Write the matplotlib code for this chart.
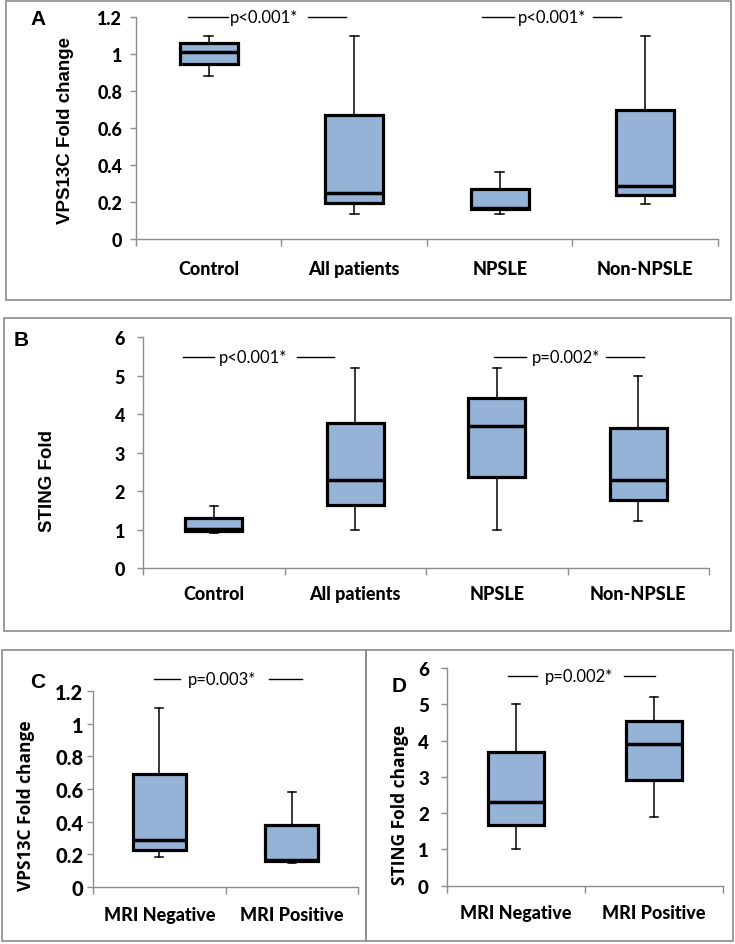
import matplotlib.pyplot as plt
from matplotlib.patches import Rectangle

groups_ab = ["Control", "All patients", "NPSLE", "Non-NPSLE"]
groups_cd = ["MRI Negative", "MRI Positive"]

# box summaries: whisker low, q1, median, q3, whisker high
vps_lo = [0.88, 0.135, 0.135, 0.19]
vps_q1 = [0.945, 0.193, 0.16, 0.238]
vps_med = [1.01, 0.25, 0.17, 0.287]
vps_q3 = [1.06, 0.673, 0.272, 0.697]
vps_hi = [1.10, 1.10, 0.363, 1.10]

sting_lo = [0.92, 0.99, 0.99, 1.21]
sting_q1 = [0.97, 1.65, 2.37, 1.76]
sting_med = [1.01, 2.29, 3.69, 2.30]
sting_q3 = [1.31, 3.76, 4.43, 3.63]
sting_hi = [1.60, 5.20, 5.20, 4.99]

mri_vps_lo = [0.18, 0.147]
mri_vps_q1 = [0.225, 0.156]
mri_vps_med = [0.287, 0.166]
mri_vps_q3 = [0.69, 0.381]
mri_vps_hi = [1.096, 0.58]

mri_sting_lo = [1.01, 1.90]
mri_sting_q1 = [1.68, 2.92]
mri_sting_med = [2.30, 3.91]
mri_sting_q3 = [3.69, 4.55]
mri_sting_hi = [5.01, 5.21]

vps_ticks = [0, 0.2, 0.4, 0.6, 0.8, 1, 1.2]
sting_ticks = [0, 1, 2, 3, 4, 5, 6]

W, H = 735, 945
FILL = "#95B3D7"
GRAY = "#8C8C8C"
CAL = "Lato"

fig = plt.figure(figsize=(W / 100, H / 100), dpi=100)


def px_rect(l, t, r, b):
    return [l / W, 1 - b / H, (r - l) / W, (b - t) / H]


def frame(l, t, r, b):
    fig.patches.append(Rectangle((l / W, 1 - b / H), (r - l) / W, (b - t) / H,
                                 transform=fig.transFigure, fill=False,
                                 edgecolor=GRAY, lw=1.2))


def panel(rect, labels, lo, q1, med, q3, hi, ticks, ytick_size, xpad, ypad):
    ax = fig.add_axes(px_rect(*rect))
    stats = [dict(whislo=a, q1=b, med=c, q3=d, whishi=e, fliers=[])
             for a, b, c, d, e in zip(lo, q1, med, q3, hi)]
    n = len(labels)
    ax.bxp(stats, positions=range(1, n + 1), widths=0.4, patch_artist=True,
           boxprops=dict(facecolor=FILL, edgecolor="black", lw=2.3),
           medianprops=dict(color="black", lw=2.5),
           whiskerprops=dict(color="black", lw=1.1),
           capprops=dict(color="black", lw=1.1), capwidths=0.06)
    ax.set_xlim(0.5, n + 0.5)
    ax.set_ylim(ticks[0], ticks[-1])
    ax.set_yticks(ticks)
    ax.set_yticklabels([f"{t:g}" for t in ticks], fontfamily=CAL,
                       fontweight="black", fontsize=ytick_size)
    ax.set_xticks(range(1, n + 1))
    ax.set_xticklabels(labels, fontfamily=CAL, fontweight="black", fontsize=13)
    ax.set_xticks([i + 0.5 for i in range(n + 1)], minor=True)
    ax.tick_params(axis="x", which="major", length=0, pad=xpad)
    ax.tick_params(axis="x", which="minor", length=5, color=GRAY, width=1)
    ax.tick_params(axis="y", length=4, color=GRAY, width=1, pad=ypad)
    for s in ["top", "right"]:
        ax.spines[s].set_visible(False)
    for s in ["left", "bottom"]:
        ax.spines[s].set_color(GRAY)
        ax.spines[s].set_linewidth(1)
    ax.set_facecolor("none")
    return ax


def pnote(ax, y, x1, x2, xt, x3, x4, text):
    ax.plot([x1, x2], [y, y], color="black", lw=1, clip_on=False)
    ax.plot([x3, x4], [y, y], color="black", lw=1, clip_on=False)
    ax.text(xt, y, text, ha="center", va="center", fontfamily=CAL,
            fontsize=12, clip_on=False)


# panel frames
frame(6, 1.5, 731, 300.5)
frame(3.5, 319, 731, 631.5)
frame(1.5, 651, 365.5, 942)
frame(365.5, 651, 733, 942)

# A
ax_a = panel((136, 18.3, 718, 240), groups_ab, vps_lo, vps_q1, vps_med,
             vps_q3, vps_hi, vps_ticks, 13, 15, 6)
pnote(ax_a, 1.2, 0.86, 1.13, 1.38, 1.68, 1.94, "p<0.001*")
pnote(ax_a, 1.2, 2.88, 3.10, 3.36, 3.64, 3.83, "p<0.001*")
fig.text(66 / W, 1 - 131 / H, "VPS13C Fold change", rotation=90, ha="center",
         va="center", fontfamily="Liberation Sans", fontweight="bold", fontsize=13.5)
fig.text(38.5 / W, 1 - 19.5 / H, "A", ha="center", va="center",
         fontfamily="Liberation Sans", fontweight="bold", fontsize=15)

# B
ax_b = panel((143, 338.3, 709, 569), groups_ab, sting_lo, sting_q1, sting_med,
             sting_q3, sting_hi, sting_ticks, 13, 12, 9)
pnote(ax_b, 5.5, 0.78, 1.00, 1.28, 1.59, 1.85, "p<0.001*")
pnote(ax_b, 5.5, 2.98, 3.21, 3.49, 3.77, 4.04, "p=0.002*")
fig.text(47 / W, 1 - 481 / H, "STING Fold", rotation=90, ha="center",
         va="center", fontfamily="Liberation Sans", fontweight="bold", fontsize=13.5)
fig.text(21.5 / W, 1 - 341 / H, "B", ha="center", va="center",
         fontfamily="Liberation Sans", fontweight="bold", fontsize=15)

# C
ax_c = panel((93, 692.3, 358, 887.7), groups_cd, mri_vps_lo, mri_vps_q1,
             mri_vps_med, mri_vps_q3, mri_vps_hi, vps_ticks, 14.5, 14, 3)
pnote(ax_c, 1.274, 0.96, 1.16, 1.47, 1.83, 2.08, "p=0.003*")
fig.text(26 / W, 1 - 806 / H, "VPS13C Fold change", rotation=90, ha="center",
         va="center", fontfamily="Open Sans", fontweight="bold", fontsize=12.5)
fig.text(37.5 / W, 1 - 682 / H, "C", ha="center", va="center",
         fontfamily="Liberation Sans", fontweight="bold", fontsize=15)

# D
ax_d = panel((447, 669, 723, 886.7), groups_cd, mri_sting_lo, mri_sting_q1,
             mri_sting_med, mri_sting_q3, mri_sting_hi, sting_ticks, 13.5, 13, 9)
pnote(ax_d, 5.78, 0.94, 1.15, 1.46, 1.78, 2.01, "p=0.002*")
fig.text(400 / W, 1 - 805 / H, "STING Fold change", rotation=90, ha="center",
         va="center", fontfamily="Open Sans", fontweight="bold", fontsize=12.5)
fig.text(399 / W, 1 - 686.5 / H, "D", ha="center", va="center",
         fontfamily="Liberation Sans", fontweight="bold", fontsize=15)

fig.savefig("out.png", dpi=100)
